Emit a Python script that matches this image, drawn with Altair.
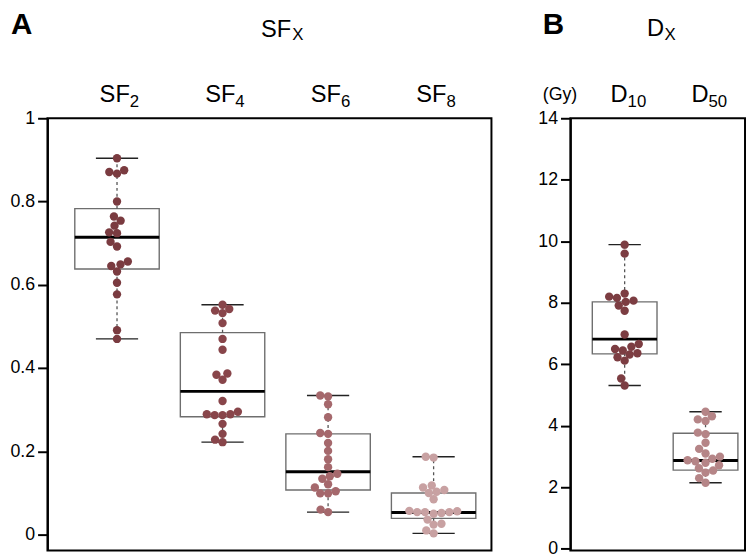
import altair as alt
import pandas as pd
import numpy as np

FONT = "Liberation Sans"

# ---------------- Panel A : SF_X ----------------
sf_groups = ["SF2", "SF4", "SF6", "SF8"]
sf_head_main = ["SF", "SF", "SF", "SF"]
sf_head_sub = ["2", "4", "6", "8"]
sf2 = [0.904, 0.875, 0.871, 0.867, 0.800, 0.764, 0.754, 0.742, 0.726, 0.724,
       0.703, 0.692, 0.656, 0.649, 0.645, 0.632, 0.605, 0.577, 0.491, 0.470]
sf4 = [0.552, 0.542, 0.538, 0.532, 0.508, 0.470, 0.444, 0.387, 0.384, 0.372,
       0.321, 0.295, 0.289, 0.287, 0.287, 0.289, 0.266, 0.242, 0.228, 0.222]
sf6 = [0.334, 0.332, 0.313, 0.282, 0.244, 0.242, 0.220, 0.201, 0.181, 0.162,
       0.146, 0.140, 0.134, 0.121, 0.113, 0.104, 0.099, 0.099, 0.060, 0.054]
sf8 = [0.187, 0.185, 0.118, 0.113, 0.107, 0.103, 0.100, 0.085, 0.057, 0.056,
       0.054, 0.054, 0.054, 0.052, 0.050, 0.036, 0.026, 0.024, 0.010, 0.003]
sf_lower = [0.470, 0.222, 0.054, 0.003]
sf_q1 = [0.638, 0.283, 0.107, 0.039]
sf_median = [0.714, 0.344, 0.151, 0.053]
sf_q3 = [0.783, 0.485, 0.242, 0.100]
sf_upper = [0.904, 0.552, 0.334, 0.187]
sf_colors = ["#7a3b40", "#88454a", "#a5686c", "#c8a1a2"]
sf_ticks = [0, 0.2, 0.4, 0.6, 0.8, 1]

# ---------------- Panel B : D_X ----------------
d_groups = ["D10", "D50"]
d_head_main = ["D", "D"]
d_head_sub = ["10", "50"]
d10 = [9.89, 9.60, 8.30, 8.20, 8.16, 8.07, 8.03, 7.91, 7.74, 6.97,
       6.66, 6.57, 6.50, 6.45, 6.36, 6.32, 6.23, 6.12, 5.54, 5.31]
d50 = [4.46, 4.31, 4.21, 4.16, 3.78, 3.73, 3.45, 3.25, 3.10, 3.00,
       2.93, 2.88, 2.85, 2.80, 2.72, 2.62, 2.55, 2.48, 2.30, 2.15]
d_lower = [5.31, 2.15]
d_q1 = [6.34, 2.56]
d_median = [6.82, 2.87]
d_q3 = [8.03, 3.76]
d_upper = [9.89, 4.46]
d_colors = ["#7c3d42", "#b58587"]
d_ticks = [0, 2, 4, 6, 8, 10, 12, 14]


def beeswarm(vals, ppu_y, diam):
    """Deterministic compact swarm: offsets in pixels."""
    vals = np.asarray(vals, float)
    order = np.argsort(vals, kind="mergesort")
    placed = []
    out = np.zeros(len(vals))
    for i in order:
        y = vals[i] * ppu_y
        forb = []
        for xj, yj in placed:
            dy = abs(y - yj)
            if dy < diam:
                dx = np.sqrt(diam ** 2 - dy ** 2)
                forb.append((xj - dx, xj + dx))
        cands = [0.0] + [a for a, b in forb] + [b for a, b in forb]
        cands.sort(key=lambda c: (round(abs(c), 6), c))
        for c in cands:
            if all(not (a + 1e-6 < c < b - 1e-6) for a, b in forb):
                out[i] = c
                break
        placed.append((out[i], y))
    return out


def make_panel(groups, series, colors, lower, q1, med, q3, upper,
               ydom, yticks, yfmt, width, height, xdom,
               head_main, head_sub, head_dx, extra_texts):
    pos = list(range(1, len(groups) + 1))
    ppu_x = width / (xdom[1] - xdom[0])
    ppu_y = height / (ydom[1] - ydom[0])
    rows = []
    for g, p, vals in zip(groups, pos, series):
        offs = beeswarm(vals, ppu_y, 8.0)
        for v, o in zip(vals, offs):
            rows.append({"group": g, "value": v, "xpos": p + o / ppu_x})
    pts = pd.DataFrame(rows)
    stats = pd.DataFrame({"group": groups, "pos": pos, "lower": lower, "q1": q1,
                          "median": med, "q3": q3, "upper": upper})
    heads = pd.DataFrame({"pos": pos, "main": head_main, "sub": head_sub})

    xs = alt.Scale(domain=xdom, nice=False, zero=False)
    ys = alt.Scale(domain=ydom, nice=False, zero=False)
    yaxis = alt.Axis(values=yticks, format=yfmt, title=None, grid=False)

    base = alt.Chart(stats).transform_calculate(
        xl="datum.pos - 0.4", xr="datum.pos + 0.4",
        cl="datum.pos - 0.2", cr="datum.pos + 0.2")

    box = base.mark_rect(fill="white", stroke="#6e6e6e", strokeWidth=1.4).encode(
        x=alt.X("xl:Q", scale=xs, axis=None), x2="xr:Q",
        y=alt.Y("q1:Q", scale=ys, axis=yaxis), y2="q3:Q")
    stem_hi = base.mark_rule(color="#555555", strokeWidth=1.3, strokeDash=[3, 3]).encode(
        x=alt.X("pos:Q", scale=xs, axis=None),
        y=alt.Y("q3:Q", scale=ys, axis=yaxis), y2="upper:Q")
    stem_lo = base.mark_rule(color="#555555", strokeWidth=1.3, strokeDash=[3, 3]).encode(
        x=alt.X("pos:Q", scale=xs, axis=None),
        y=alt.Y("lower:Q", scale=ys, axis=yaxis), y2="q1:Q")
    cap_hi = base.mark_rule(color="#222222", strokeWidth=1.4).encode(
        x=alt.X("cl:Q", scale=xs, axis=None), x2="cr:Q",
        y=alt.Y("upper:Q", scale=ys, axis=yaxis))
    cap_lo = base.mark_rule(color="#222222", strokeWidth=1.4).encode(
        x=alt.X("cl:Q", scale=xs, axis=None), x2="cr:Q",
        y=alt.Y("lower:Q", scale=ys, axis=yaxis))
    median = base.mark_rule(color="black", strokeWidth=3).encode(
        x=alt.X("xl:Q", scale=xs, axis=None), x2="xr:Q",
        y=alt.Y("median:Q", scale=ys, axis=yaxis))

    points = alt.Chart(pts).mark_circle(size=72, opacity=1).encode(
        x=alt.X("xpos:Q", scale=xs, axis=None),
        y=alt.Y("value:Q", scale=ys, axis=yaxis),
        color=alt.Color("group:N", scale=alt.Scale(domain=groups, range=colors), legend=None))

    hmain = alt.Chart(heads).mark_text(
        align="right", baseline="alphabetic", fontSize=24, font=FONT, color="black",
        dx=head_dx, clip=False).encode(
        x=alt.X("pos:Q", scale=xs, axis=None), y=alt.value(-16), text="main:N")
    hsub = alt.Chart(heads).mark_text(
        align="left", baseline="alphabetic", fontSize=17, font=FONT, color="black",
        dx=head_dx, clip=False).encode(
        x=alt.X("pos:Q", scale=xs, axis=None), y=alt.value(-11), text="sub:N")

    layers = [box, stem_hi, stem_lo, cap_hi, cap_lo, median, points, hmain, hsub]
    for t in extra_texts:
        txt, px, py, size, weight, align = t
        layers.append(
            alt.Chart(pd.DataFrame({"t": [txt]})).mark_text(
                align=align, baseline="alphabetic", fontSize=size, fontWeight=weight,
                font=FONT, color="black", clip=False).encode(
                x=alt.value(px), y=alt.value(py), text="t:N"))

    return alt.layer(*layers).properties(width=width, height=height)


H = 438
panel_a = make_panel(
    sf_groups, [sf2, sf4, sf6, sf8], sf_colors,
    sf_lower, sf_q1, sf_median, sf_q3, sf_upper,
    [-0.038, 1.0], sf_ticks, "~g", 450, H, [0.341, 4.548],
    sf_head_main, sf_head_sub, 13,
    [("A", -37, -85, 30, "bold", "left"),
     ("SF", 247, -82.5, 24, "normal", "right"),
     ("X", 248, -79.5, 17, "normal", "left")])

panel_b = make_panel(
    d_groups, [d10, d50], d_colors,
    d_lower, d_q1, d_median, d_q3, d_upper,
    [-0.05, 14.0], d_ticks, "d", 177, H, [0.329, 2.488],
    d_head_main, d_head_sub, 3,
    [("B", -28, -85, 30, "bold", "left"),
     ("D", 95, -83, 24, "normal", "right"),
     ("X", 95.5, -79.5, 17, "normal", "left"),
     ("(Gy)", 7, -18.7, 18, "normal", "right")])

chart = alt.hconcat(panel_a, panel_b, spacing=44).resolve_scale(
    color="independent"
).properties(
    padding={"left": 0, "top": -2, "right": 0, "bottom": 0}
).configure_view(
    stroke="black", strokeWidth=2
).configure_axis(
    domainColor="black", domainWidth=2, tickColor="black", tickWidth=2,
    tickSize=10, labelFontSize=18, labelFont=FONT, labelColor="black",
    labelPadding=3, grid=False
)

chart.save("out.html", embed_options={"renderer": "svg", "actions": False})
